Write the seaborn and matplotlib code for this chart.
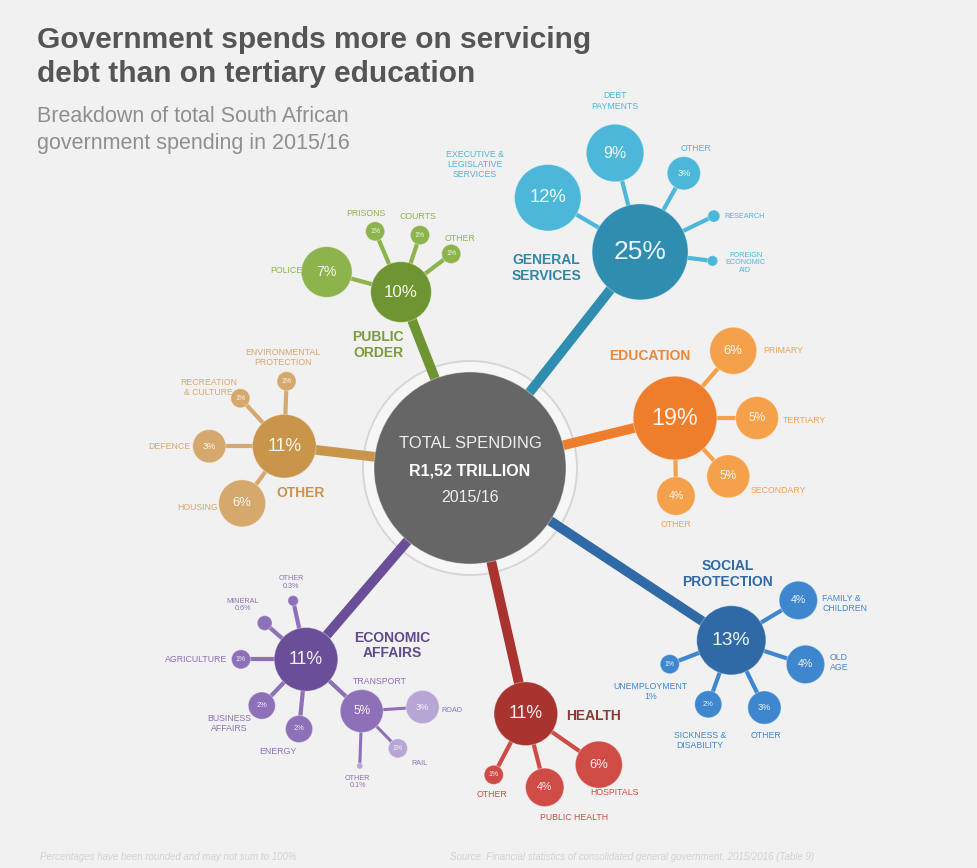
import matplotlib
matplotlib.use('Agg')  # headless

import numpy as np
import pandas as pd
import matplotlib.pyplot as plt
from matplotlib.patches import Circle
import seaborn as sns

# --- Data: share of total government spending 2015/16 (%) ---
total_value = 100
main_names = ["General services", "Education", "Social protection", "Health",
              "Economic affairs", "Other", "Public order"]
main_values = [25, 19, 13, 11, 11, 11, 10]

gen_names = ["Executive &\nlegislative\nservices", "Debt\npayments", "Other",
             "Research", "Foreign\neconomic\naid"]
gen_values = [12, 9, 3, 0.4, 0.3]
edu_names = ["Primary", "Tertiary", "Secondary", "Other"]
edu_values = [6, 5, 5, 4]
soc_names = ["Family &\nchildren", "Old\nage", "Other", "Sickness &\ndisability", "Unemployment\n1%"]
soc_values = [4, 4, 3, 2, 1]
hea_names = ["Hospitals", "Public health", "Other"]
hea_values = [6, 4, 1]
eco_names = ["Transport", "Agriculture", "Mineral\n0.6%", "Other\n0.3%", "Business\naffairs", "Energy"]
eco_values = [5, 1, 0.6, 0.3, 2, 2]
trn_names = ["Road", "Rail", "Other\n0.1%"]
trn_values = [3, 1, 0.1]
oth_names = ["Defence", "Housing", "Recreation\n& culture", "Environmental\nprotection"]
oth_values = [3, 6, 1, 1]
pub_names = ["Police", "Prisons", "Courts", "Other"]
pub_values = [7, 1, 1, 1]

# --- Layout (angles in degrees, distances and offsets in pixels) ---
CX, CY = 470, 468
K = 9.6  # radius = K * sqrt(value)

groups = [
    dict(names=gen_names, values=gen_values, main=0, ang=51.8, dist=275,
         col="#2f8db0", sub="#4cb7d8", lab="#2f86a8", loff=(-94, 16), lha="center",
         sang=[149.6, 104.2, 60.9, 25.9, -7.1], sdist=[107, 102, 90, 82, 73],
         soff=[(-73, -33), (0, -52), (12, -25), (11, 0), (33, 2)],
         sha=["center", "center", "center", "left", "center"]),
    dict(names=edu_names, values=edu_values, main=1, ang=13.7, dist=211,
         col="#ee7e2c", sub="#f5a14c", lab="#e8883c", loff=(-25, -62), lha="center",
         sang=[49.1, 0, -47.6, -89.3], sdist=[89, 82, 79, 78],
         soff=[(30, 0), (26, 2), (22, 14), (0, 28)],
         sha=["left", "left", "left", "center"]),
    dict(names=soc_names, values=soc_values, main=2, ang=-33.4, dist=313,
         col="#2f69a6", sub="#3e87cf", lab="#2f69a6", loff=(-4, -66), lha="center",
         sang=[30.8, -18, -63.8, -109.8, -158.8], sdist=[78, 78, 75, 68, 66],
         soff=[(24, 3), (24, -2), (2, 28), (-8, 36), (-19, 27)],
         sha=["left", "left", "center", "center", "center"]),
    dict(names=hea_names, values=hea_values, main=3, ang=-77.2, dist=252,
         col="#a8332f", sub="#cf4c46", lab="#8a3b38", loff=(40, 2), lha="left",
         sang=[-34.9, -75.6, -117.7], sdist=[89, 76, 69],
         soff=[(-9, 28), (29, 30), (-2, 20)],
         sha=["left", "center", "center"]),
    dict(names=eco_names, values=eco_values, main=4, ang=-130.6, dist=252,
         col="#6a4f98", sub="#8d70b8", lab="#5e4a8c", loff=(86, -14), lha="center",
         sang=[-42.9, 180, 138.7, 102.4, -133.7, -95.7], sdist=[76, 65, 55, 60, 64, 70],
         soff=[(18, -30), (-14, 0), (-22, -18), (-2, -18), (-33, 18), (-21, 23)],
         sha=["center", "right", "center", "center", "center", "center"]),
    dict(names=oth_names, values=oth_values, main=5, ang=173.3, dist=187,
         col="#c8954b", sub="#d5a86d", lab="#c8954b", loff=(16, 47), lha="center",
         sang=[180, -126.4, 132.5, 88], sdist=[75, 71, 65, 65],
         soff=[(-19, 0), (-24, 4), (-32, -11), (-4, -24)],
         sha=["right", "right", "center", "center"]),
    dict(names=pub_names, values=pub_values, main=6, ang=111.4, dist=189,
         col="#6e9532", sub="#8db34c", lab="#7b9c3c", loff=(-23, 53), lha="center",
         sang=[164.9, 113.1, 71.6, 37.2], sdist=[77, 66, 60, 63],
         soff=[(-24, -1), (-9, -18), (-2, -19), (9, -15)],
         sha=["right", "center", "center", "center"]),
]
# transport breakdown hangs off economic affairs' first child
trn_layout = dict(sang=[3.8, -45.8, -92], sdist=[61, 52, 55],
                  soff=[(19, 3), (13, 15), (-2, 16)], sha=["left", "left", "center"],
                  col="#b6a5d5")


def polar(cx, cy, ang, d):
    a = np.deg2rad(ang)
    return cx + d * np.cos(a), cy - d * np.sin(a)


def small_caps(s):
    return s.upper()


nodes = []   # x, y, r, color, value
edges = []   # x0, y0, x1, y1, color, lw
labels = []  # text, x, y, ha, color, size, weight

nodes.append(dict(x=CX, y=CY, r=K * np.sqrt(total_value), color="#666666", v=None))

for g in groups:
    v = main_values[g["main"]]
    mx, my = polar(CX, CY, g["ang"], g["dist"])
    edges.append((CX, CY, mx, my, g["col"], 7.0))
    nodes.append(dict(x=mx, y=my, r=K * np.sqrt(v), color=g["col"], v=v))
    labels.append((small_caps(main_names[g["main"]]).replace(" ", "\n"),
                   mx + g["loff"][0], my + g["loff"][1], g["lha"], g["lab"], 10, "bold"))
    for i, (nm, sv) in enumerate(zip(g["names"], g["values"])):
        sx, sy = polar(mx, my, g["sang"][i], g["sdist"][i])
        edges.append((mx, my, sx, sy, g["sub"], 3.0))
        nodes.append(dict(x=sx, y=sy, r=K * np.sqrt(sv), color=g["sub"], v=sv))
        fs = 5.2 if sv < 1 else 6.3
        labels.append((small_caps(nm), sx + g["soff"][i][0], sy + g["soff"][i][1],
                       g["sha"][i], g["sub"], fs, "normal"))
        if g["names"] is eco_names and i == 0:
            t = trn_layout
            for j, (tn, tv) in enumerate(zip(trn_names, trn_values)):
                tx, ty = polar(sx, sy, t["sang"][j], t["sdist"][j])
                edges.append((sx, sy, tx, ty, g["sub"], 2.2))
                nodes.append(dict(x=tx, y=ty, r=K * np.sqrt(tv), color=t["col"], v=tv))
                labels.append((small_caps(tn), tx + t["soff"][j][0], ty + t["soff"][j][1],
                               t["sha"][j], g["sub"], 5.2, "normal"))

df = pd.DataFrame(nodes)

# --- Plot ---
sns.set_theme(style="white")
plt.rcParams['font.family'] = ['Liberation Sans', 'DejaVu Sans']

BG = "#f1f1f1"
fig = plt.figure(figsize=(9.77, 8.68), dpi=100, facecolor=BG)
ax = fig.add_axes([0, 0, 1, 1], facecolor=BG)
ax.set_xlim(0, 977)
ax.set_ylim(868, 0)
ax.axis("off")

# ring round the total
ax.add_patch(Circle((CX, CY), K * np.sqrt(total_value) + 11, fill=True, fc="#f6f6f6",
                    ec="#d6d6d6", lw=1.4, zorder=1))

for x0, y0, x1, y1, c, lw in edges:
    ax.plot([x0, x1], [y0, y1], color=c, lw=lw, solid_capstyle="butt", zorder=2)

size_map = {r: (1.44 * r) ** 2 for r in df["r"].unique()}
sns.scatterplot(data=df, x="x", y="y", hue="color", palette={c: c for c in df["color"].unique()},
                size="r", sizes=size_map, legend=False, linewidth=0.8, edgecolor="#ffffff55",
                zorder=3, ax=ax)

# values inside the bubbles
for _, n in df.iterrows():
    if n["v"] is None or pd.isna(n["v"]) or n["r"] < 9:
        continue
    fs = float(np.clip(n["r"] * 0.4, 5.0, 19))
    ax.text(n["x"], n["y"], f"{n['v']:g}%", ha="center", va="center", color="white",
            fontsize=fs, alpha=0.92, zorder=4)

for txt, x, y, ha, c, fs, w in labels:
    ax.text(x, y, txt, ha=ha, va="center", color=c, fontsize=fs, fontweight=w,
            linespacing=1.15, zorder=4)

# centre text
ax.text(CX, CY - 25, "TOTAL SPENDING", ha="center", va="center", color="#eeeeee", fontsize=12, zorder=4)
ax.text(CX, CY + 3, "R1,52 TRILLION", ha="center", va="center", color="white", fontsize=11.5,
        fontweight="bold", zorder=4)
ax.text(CX, CY + 30, "2015/16", ha="center", va="center", color="#eeeeee", fontsize=11.5, zorder=4)

# titles
ax.text(37, 40, "Government spends more on servicing", ha="left", va="center",
        fontsize=21.5, fontweight="bold", color="#555555")
ax.text(37, 74, "debt than on tertiary education", ha="left", va="center",
        fontsize=21.5, fontweight="bold", color="#555555")
ax.text(37, 116, "Breakdown of total South African", ha="left", va="center",
        fontsize=15.5, color="#8f8f8f")
ax.text(37, 144, "government spending in 2015/16", ha="left", va="center",
        fontsize=15.5, color="#8f8f8f")

ax.text(40, 857, "Percentages have been rounded and may not sum to 100%", ha="left", va="center",
        fontsize=7, style="italic", color="#d2d2d2")
ax.text(450, 857, "Source: Financial statistics of consolidated general government, 2015/2016 (Table 9)",
        ha="left", va="center", fontsize=7, style="italic", color="#d2d2d2")

fig.savefig("out.png", dpi=100, facecolor=BG)
